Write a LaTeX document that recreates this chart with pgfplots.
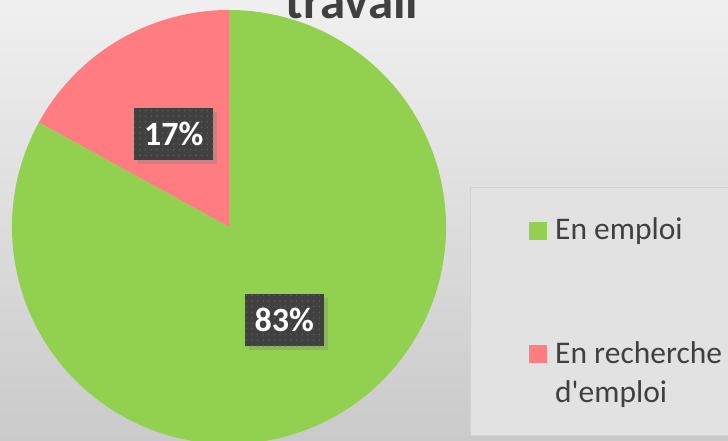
\documentclass[border=0pt]{standalone}
\usepackage{pgfplots}
\pgfplotsset{compat=1.18}
\usepackage{pgfplotstable}
\usepackage{fontspec}
\setmainfont{Carlito}[Ligatures=TeXOff]
\usetikzlibrary{patterns.meta,shadows}
\definecolor{emploi}{RGB}{146,208,80}
\definecolor{recherche}{RGB}{255,124,128}
\definecolor{txt}{RGB}{64,64,64}
\definecolor{lblbg}{RGB}{64,64,64}
\definecolor{lbldot}{RGB}{92,92,92}
\definecolor{bgtop}{RGB}{240,240,240}
\definecolor{bgbot}{RGB}{202,202,202}
\definecolor{legfill}{RGB}{226,226,226}
\definecolor{legedge}{RGB}{210,210,210}

% share of each group, in percent
\pgfplotstableread{
label value
emploi 83
recherche 17
}\piedata
\pgfplotstablegetelem{0}{value}\of\piedata \let\vA\pgfplotsretval
\pgfplotstablegetelem{1}{value}\of\piedata \let\vB\pgfplotsretval

\tikzset{lbl/.style={fill=lblbg, pattern={Dots[distance=5.6pt,radius=0.9pt]}, pattern color=lbldot,
        preaction={fill=lblbg, drop shadow={shadow xshift=4pt, shadow yshift=-4pt, opacity=0.35}},
        text=white, font=\bfseries\fontsize{34}{40}\selectfont,
        minimum width=79pt, minimum height=52pt, inner sep=0pt},
  leg/.style={anchor=base west, text=txt, font=\fontsize{31.5}{39}\selectfont, inner sep=0pt}}

\begin{document}
\begin{tikzpicture}[x=1pt,y=1pt]
\clip (0,0) rectangle (728,441);
\shade[top color=bgtop, bottom color=bgbot] (0,0) rectangle (728,441);

% title, second line only (first line is outside the frame)
\node[anchor=base, text=txt, font=\bfseries\fontsize{51}{60}\selectfont] at (352,422) {travail};

% legend frame
\fill[legfill] (470,5) rectangle (740,253);
\draw[legedge, line width=1pt] (470,5) rectangle (740,253);

\pgfmathsetmacro{\aB}{90+3.6*\vB}
\pgfmathsetmacro{\aA}{\aB+3.6*\vA}
\pgfmathsetmacro{\mB}{(90+\aB)/2}
\pgfmathsetmacro{\mA}{(\aB+\aA)/2}
\begin{axis}[
  at={(229pt,214pt)}, anchor=center,
  x=217pt, y=217pt,
  xmin=-1, xmax=1, ymin=-1, ymax=1,
  hide axis, clip=false,
]
\fill[recherche] (axis cs:0,0) -- (axis cs:0,1) arc[start angle=90, end angle=\aB, radius=217pt] -- cycle;
\fill[emploi] (axis cs:0,0) -- (axis cs:{cos(\aB)},{sin(\aB)}) arc[start angle=\aB, end angle=\aA, radius=217pt] -- cycle;
\node[lbl] at (axis cs:{0.5*cos(\mB)},{0.5*sin(\mB)}) {\vB\%};
\node[lbl] at (axis cs:{0.5*cos(\mA)},{0.5*sin(\mA)}) {\vA\%};
\end{axis}

% legend entries
\fill[emploi] (529,201) rectangle (547,219);
\node[leg] at (555,201) {En emploi};
\fill[recherche] (529,78) rectangle (547,96);
\node[leg] at (555,77) {En recherche};
\node[leg] at (555,38) {d'emploi};
\end{tikzpicture}
\end{document}
